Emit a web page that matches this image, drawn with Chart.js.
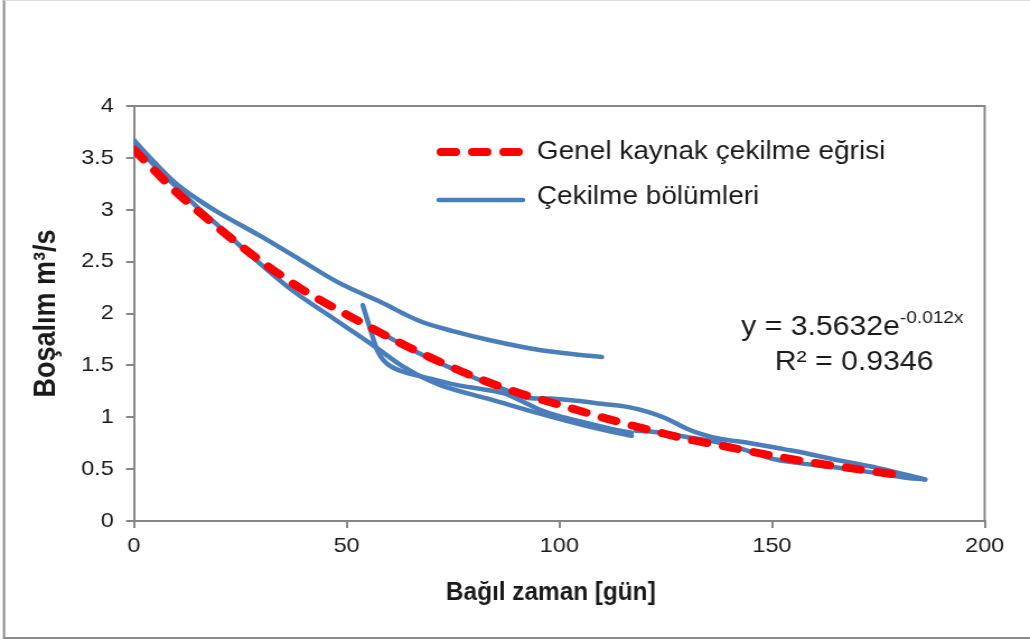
<!DOCTYPE html>
<html>
<head>
<meta charset="utf-8">
<script src="https://cdn.jsdelivr.net/npm/chart.js@4.4.0/dist/chart.umd.min.js"></script>
<style>
  html, body { margin: 0; padding: 0; background: #fff; }
  #chart { display: block; }
</style>
</head>
<body>
<!-- drawn 920 wide and shown 1030 wide: the original figure is stretched sideways -->
<canvas id="chart" width="920" height="642" style="width:1030px;height:642px"></canvas>
<script>
// values
const xTicks = [0, 50, 100, 150, 200];
const yTicks = [0, 0.5, 1, 1.5, 2, 2.5, 3, 3.5, 4];

// fitted recession curve (red dashes)
const trendX = [0, 10, 20, 30, 40, 50, 60, 70, 80, 90, 100, 110, 120, 130, 140, 150, 160, 170, 182];
const trendY = [3.58, 3.17, 2.82, 2.50, 2.22, 1.99, 1.77, 1.57, 1.39, 1.24, 1.12, 1.00, 0.89, 0.79, 0.71, 0.63, 0.56, 0.50, 0.43];

// recession segments (blue)
const seg1X = [0, 5, 10, 15, 20, 30, 39, 48, 58, 67, 75, 84, 95, 103, 110];
const seg1Y = [3.67, 3.45, 3.25, 3.10, 2.97, 2.74, 2.52, 2.30, 2.11, 1.93, 1.83, 1.74, 1.65, 1.61, 1.58];
const seg2X = [0, 5, 10, 15, 20, 28, 37, 47, 56, 64, 72, 84, 95, 107, 117];
const seg2Y = [3.64, 3.42, 3.22, 3.02, 2.84, 2.54, 2.23, 1.95, 1.70, 1.47, 1.31, 1.17, 1.04, 0.91, 0.82];
const seg3X = [53.8, 55.5, 57.5, 60, 64, 70, 76, 82, 87, 91, 95, 100, 106, 112, 117];
const seg3Y = [2.08, 1.86, 1.62, 1.50, 1.43, 1.37, 1.31, 1.27, 1.23, 1.16, 1.08, 1.01, 0.95, 0.89, 0.85];
const seg4X = [57, 64, 72, 80, 87, 92, 98, 104, 110, 116, 121, 125, 130, 134, 138, 145, 153, 156, 165, 175, 186];
const seg4Y = [1.84, 1.68, 1.52, 1.38, 1.27, 1.19, 1.18, 1.16, 1.13, 1.10, 1.05, 0.99, 0.89, 0.83, 0.79, 0.75, 0.69, 0.67, 0.59, 0.51, 0.40];
const seg5X = [118, 124, 130, 137, 144, 150, 156, 162, 168, 175, 181, 186];
const seg5Y = [0.87, 0.85, 0.81, 0.76, 0.68, 0.60, 0.56, 0.53, 0.50, 0.46, 0.42, 0.40];

const trendLabel = 'Genel kaynak çekilme eğrisi';
const segLabel = 'Çekilme bölümleri';
const xTitle = 'Bağıl zaman [gün]';
const yTitle = 'Boşalım m³/s';
const trendColor = '#ff0000';
const segColor = '#4a7ebb';
const axisColor = '#868686';
const textColor = '#1a1a1a';
const narrow = '"Liberation Sans Narrow", "Liberation Sans", Arial, sans-serif';
const sans = '"Liberation Sans", Arial, sans-serif';

const toPoints = (xs, ys) => xs.map((x, i) => ({ x: x, y: ys[i] }));
const segments = [[seg1X, seg1Y], [seg2X, seg2Y], [seg3X, seg3Y], [seg4X, seg4Y], [seg5X, seg5Y]];

// first dataset is drawn on top, so the red trend comes first
const datasets = [{
  label: trendLabel,
  data: toPoints(trendX, trendY),
  borderColor: trendColor,
  borderWidth: 8,
  borderDash: [13, 15],
  borderCapStyle: 'round',
  pointRadius: 0,
  tension: 0.3
}].concat(segments.map(([xs, ys]) => ({
  label: segLabel,
  data: toPoints(xs, ys),
  borderColor: segColor,
  borderWidth: 4.5,
  borderCapStyle: 'round',
  borderJoinStyle: 'round',
  pointRadius: 0,
  tension: 0.35
})));

const extras = {
  id: 'extras',
  beforeDraw(chart) {
    const ctx = chart.ctx;
    ctx.save();
    ctx.strokeStyle = '#8c8c8c';
    ctx.lineWidth = 2;
    ctx.beginPath();
    ctx.moveTo(3.6, 0);
    ctx.lineTo(3.6, 638);
    ctx.lineTo(chart.width, 638);
    ctx.stroke();
    ctx.strokeStyle = '#dcdcdc';
    ctx.lineWidth = 1;
    ctx.beginPath();
    ctx.moveTo(3.6, 0.5);
    ctx.lineTo(chart.width, 0.5);
    ctx.stroke();
    ctx.restore();
  },
  afterDraw(chart) {
    const ctx = chart.ctx;
    const a = chart.chartArea;
    ctx.save();
    // top and right edges of the plot box
    ctx.strokeStyle = axisColor;
    ctx.lineWidth = 2;
    ctx.beginPath();
    ctx.moveTo(a.left, a.top);
    ctx.lineTo(a.right, a.top);
    ctx.lineTo(a.right, a.bottom);
    ctx.stroke();

    // x axis title, condensed like the original, a little left of the axis centre
    ctx.save();
    ctx.fillStyle = textColor;
    ctx.font = 'bold 25px ' + narrow;
    ctx.textAlign = 'center';
    ctx.textBaseline = 'middle';
    ctx.translate(492, 593);
    ctx.scale(0.87, 1);
    ctx.fillText(xTitle, 0, 0);
    ctx.restore();

    // legend
    ctx.lineCap = 'round';
    ctx.strokeStyle = trendColor;
    ctx.lineWidth = 8;
    ctx.setLineDash([13, 15]);
    ctx.beginPath();
    ctx.moveTo(394, 152);
    ctx.lineTo(463, 152);
    ctx.stroke();
    ctx.setLineDash([]);
    ctx.strokeStyle = segColor;
    ctx.lineWidth = 4.5;
    ctx.beginPath();
    ctx.moveTo(392, 200);
    ctx.lineTo(467, 200);
    ctx.stroke();

    ctx.fillStyle = textColor;
    ctx.textBaseline = 'middle';
    ctx.font = '25px ' + sans;
    ctx.fillText(trendLabel, 479.5, 152);
    ctx.fillText(segLabel, 479.5, 197);

    // trend equation
    ctx.textBaseline = 'alphabetic';
    ctx.font = '27px ' + sans;
    const eq = 'y = 3.5632e';
    ctx.fillText(eq, 662, 335);
    const w = ctx.measureText(eq).width;
    ctx.font = '17px ' + sans;
    ctx.fillText('-0.012x', 662 + w, 323);
    ctx.font = '27px ' + sans;
    ctx.fillText('R² = 0.9346', 692, 370);
    ctx.restore();
  }
};

new Chart(document.getElementById('chart'), {
  type: 'line',
  data: { datasets: datasets },
  plugins: [extras],
  options: {
    responsive: false,
    animation: false,
    events: [],
    layout: { padding: { top: 106, right: 40.5, left: 0, bottom: 0 } },
    plugins: {
      legend: { display: false },
      tooltip: { enabled: false }
    },
    scales: {
      x: {
        type: 'linear',
        min: 0,
        max: 200,
        afterBuildTicks: (scale) => { scale.ticks = xTicks.map(v => ({ value: v })); },
        afterFit: (scale) => { scale.height = 121; },
        ticks: {
          padding: 6,
          color: textColor,
          font: { family: narrow, size: 21 },
          callback: (v) => String(v)
        },
        grid: { drawOnChartArea: false, drawTicks: true, tickLength: 7, color: axisColor, lineWidth: 2 },
        border: { color: axisColor, width: 2 }
      },
      y: {
        min: 0,
        max: 4,
        afterBuildTicks: (scale) => { scale.ticks = yTicks.map(v => ({ value: v })); },
        afterFit: (scale) => { scale.width = 119.6; },
        ticks: {
          padding: 11,
          color: textColor,
          font: { family: narrow, size: 21 },
          callback: (v) => String(v)
        },
        grid: { drawOnChartArea: false, drawTicks: true, tickLength: 7, color: axisColor, lineWidth: 2 },
        border: { color: axisColor, width: 2 },
        title: {
          display: true,
          text: yTitle,
          color: textColor,
          font: { family: narrow, size: 27, weight: 'bold' },
          padding: { top: 25, bottom: 0 }
        }
      }
    }
  }
});
</script>
</body>
</html>
